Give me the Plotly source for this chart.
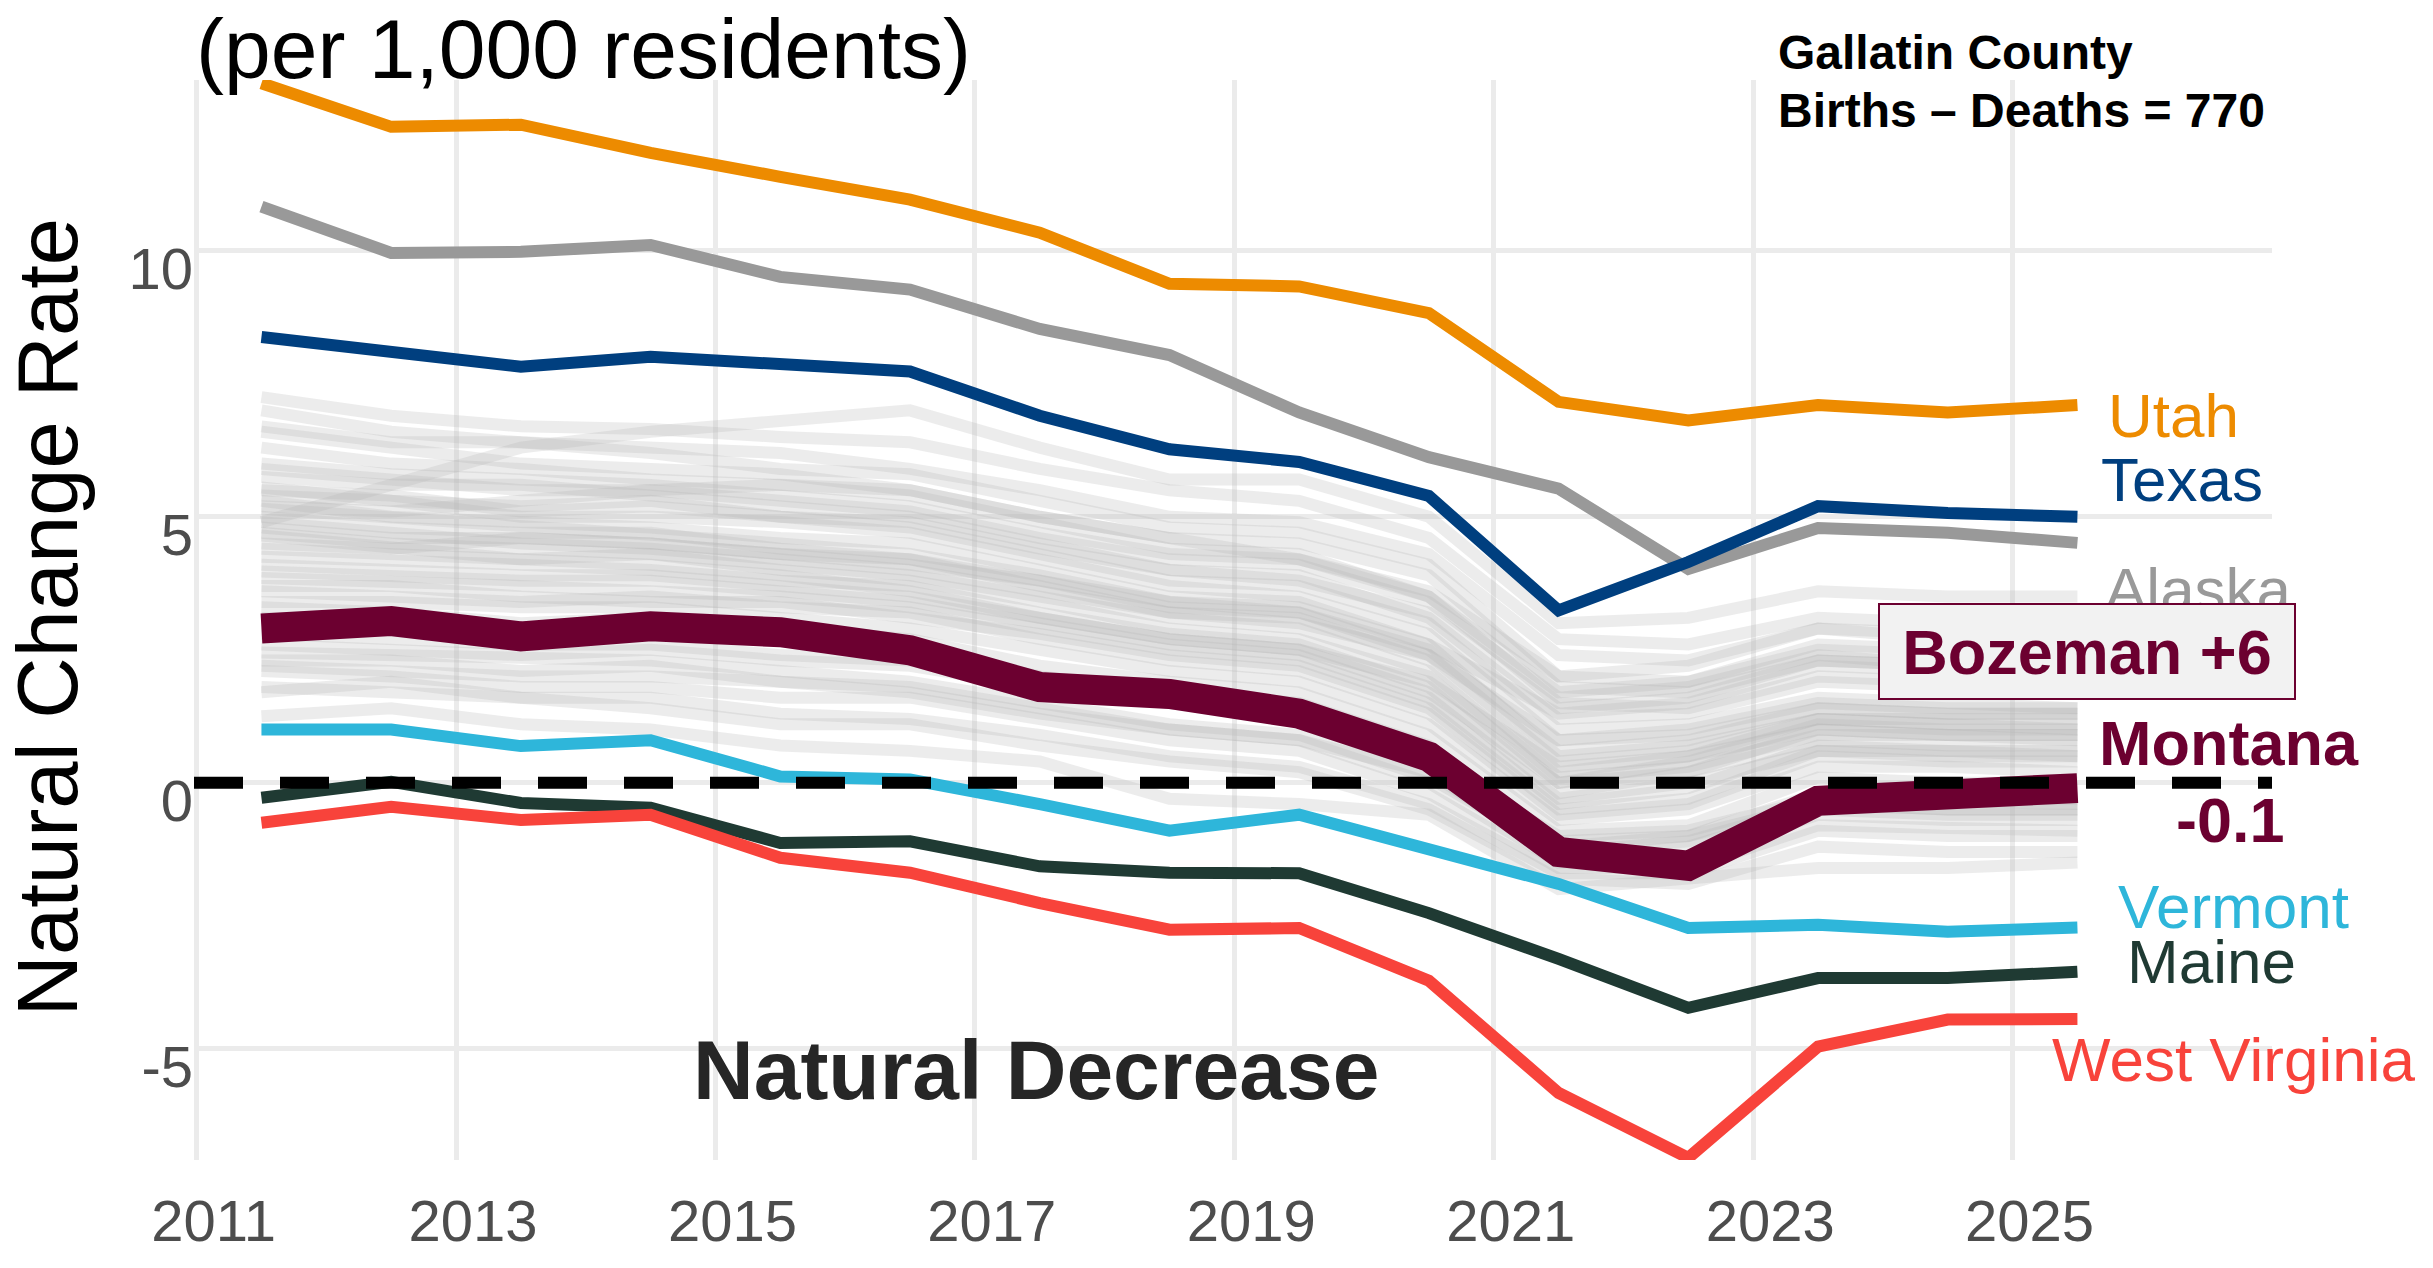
import plotly.graph_objects as go

# ---------------- data ----------------
years = [2011.5, 2012.5, 2013.5, 2014.5, 2015.5, 2016.5, 2017.5, 2018.5,
         2019.5, 2020.5, 2021.5, 2022.5, 2023.5, 2024.5, 2025.5]

utah = [13.15, 12.33, 12.37, 11.84, 11.39, 10.96, 10.34, 9.38, 9.33, 8.83, 7.16, 6.81, 7.10, 6.96, 7.10]
alaska = [10.83, 9.96, 9.98, 10.11, 9.51, 9.27, 8.53, 8.04, 6.96, 6.12, 5.53, 4.02, 4.79, 4.70, 4.51]
texas = [8.38, 8.08, 7.82, 8.01, 7.89, 7.73, 6.90, 6.27, 6.03, 5.39, 3.24, 4.15, 5.20, 5.07, 5.00]
montana = [2.90, 3.04, 2.75, 2.94, 2.83, 2.49, 1.80, 1.67, 1.30, 0.49, -1.30, -1.56, -0.34, -0.23, -0.10]
vermont = [1.00, 1.00, 0.69, 0.80, 0.12, 0.06, -0.40, -0.90, -0.60, -1.26, -1.90, -2.73, -2.67, -2.80, -2.72]
maine = [-0.28, 0.02, -0.38, -0.47, -1.13, -1.10, -1.57, -1.69, -1.70, -2.45, -3.31, -4.23, -3.67, -3.67, -3.55]
west_virginia = [-0.75, -0.45, -0.70, -0.60, -1.41, -1.69, -2.26, -2.76, -2.73, -3.72, -5.83, -7.05, -4.96, -4.45, -4.44]

other_states = [
    [4.9, 5.6, 6.3, 6.6, 6.8, 7.0, 6.3, 5.7, 5.7, 5.0, 3.0, 3.1, 3.6, 3.5, 3.5],
    [7.25, 6.9, 6.7, 6.65, 6.5, 6.4, 5.9, 5.5, 5.3, 4.6, 2.7, 2.6, 3.1, 3.0, 3.0],
    [7.0, 6.6, 6.4, 6.3, 6.2, 5.9, 5.5, 5.0, 4.9, 4.3, 2.4, 2.3, 2.9, 2.8, 2.8],
    [6.7, 6.4, 6.4, 6.2, 5.9, 5.8, 5.3, 4.8, 4.7, 4.1, 2.0, 1.9, 2.6, 2.5, 2.5],
    [6.6, 6.3, 6.0, 5.9, 5.8, 5.5, 5.0, 4.6, 4.5, 3.9, 1.8, 1.7, 2.3, 2.2, 2.2],
    [6.3, 6.0, 5.9, 5.7, 5.6, 5.4, 4.9, 4.4, 4.3, 3.5, 1.5, 1.4, 2.0, 1.9, 1.9],
    [6.0, 5.8, 5.7, 5.6, 5.4, 5.2, 4.7, 4.3, 4.2, 3.5, 1.7, 1.9, 2.5, 2.4, 2.4],
    [5.9, 5.7, 5.5, 5.5, 5.3, 5.1, 4.6, 4.2, 4.1, 3.4, 1.6, 1.8, 2.4, 2.2, 2.3],
    [5.75, 5.6, 5.6, 5.4, 5.2, 5.0, 4.5, 4.0, 3.9, 3.1, 1.2, 1.3, 1.9, 1.8, 1.7],
    [5.55, 5.3, 5.2, 5.3, 5.0, 4.8, 4.3, 3.8, 3.7, 3.0, 1.0, 1.1, 1.6, 1.5, 1.4],
    [5.5, 5.4, 5.1, 5.2, 5.0, 4.9, 4.4, 4.0, 3.8, 3.2, 1.4, 1.6, 2.3, 2.2, 2.2],
    [5.4, 5.3, 5.0, 5.0, 4.9, 4.7, 4.2, 3.7, 3.5, 2.8, 0.8, 0.9, 1.4, 1.3, 1.3],
    [5.3, 5.0, 4.9, 4.8, 4.6, 4.5, 4.0, 3.5, 3.4, 2.6, 0.5, 0.7, 1.2, 1.1, 1.0],
    [5.2, 5.1, 5.3, 5.5, 5.6, 5.5, 5.0, 4.6, 4.2, 3.6, 2.0, 2.2, 2.9, 2.7, 2.8],
    [5.15, 5.0, 4.8, 4.7, 4.5, 4.3, 3.9, 3.4, 3.2, 2.4, 0.4, 0.6, 1.2, 1.1, 1.1],
    [5.0, 4.8, 4.7, 4.7, 4.4, 4.2, 3.7, 3.2, 3.1, 2.3, 0.2, 0.5, 1.0, 0.9, 0.9],
    [4.9, 4.7, 4.5, 4.4, 4.2, 4.0, 3.6, 3.2, 3.0, 2.4, 0.8, 1.0, 1.5, 1.4, 1.4],
    [4.8, 4.6, 4.6, 4.5, 4.3, 4.2, 3.8, 3.3, 3.2, 2.5, 0.6, 0.8, 1.4, 1.3, 1.3],
    [4.7, 4.5, 4.4, 4.3, 4.1, 3.9, 3.5, 3.1, 2.9, 2.1, 0.1, 0.3, 0.9, 0.9, 0.8],
    [4.65, 4.4, 4.2, 4.3, 4.0, 3.8, 3.4, 2.9, 2.7, 2.0, 0.0, 0.4, 1.1, 1.0, 1.0],
    [4.5, 4.4, 4.6, 4.5, 4.3, 4.1, 3.8, 3.4, 3.3, 2.6, 1.3, 1.5, 2.2, 2.1, 2.1],
    [4.4, 4.3, 4.2, 4.1, 3.9, 3.6, 3.1, 2.7, 2.5, 1.9, 0.3, 0.5, 1.2, 1.2, 1.2],
    [4.25, 4.2, 4.1, 4.0, 3.8, 3.7, 3.2, 2.8, 2.6, 1.8, -0.2, 0.2, 0.8, 0.7, 0.7],
    [4.1, 4.0, 3.9, 3.9, 3.7, 3.5, 3.1, 2.7, 2.5, 1.7, 0.0, 0.2, 1.0, 0.9, 0.9],
    [3.97, 3.9, 3.8, 3.8, 3.6, 3.4, 3.0, 2.6, 2.4, 1.6, -0.3, 0.0, 0.6, 0.6, 0.5],
    [3.85, 3.8, 3.7, 3.6, 3.5, 3.3, 2.9, 2.5, 2.3, 1.5, -0.4, -0.1, 0.7, 0.6, 0.6],
    [3.7, 3.7, 3.5, 3.4, 3.4, 3.1, 2.8, 2.4, 2.2, 1.4, -0.5, -0.3, 0.6, 0.5, 0.5],
    [3.6, 3.5, 3.4, 3.5, 3.3, 3.2, 2.7, 2.3, 2.1, 1.3, -0.6, -0.4, 0.5, 0.4, 0.4],
    [3.4, 3.4, 3.3, 3.3, 3.1, 2.9, 2.5, 2.1, 1.9, 1.1, -0.7, -0.5, 0.3, 0.3, 0.2],
    [3.3, 3.2, 3.0, 3.1, 2.9, 2.7, 2.2, 1.9, 1.7, 0.9, -0.9, -0.8, 0.1, 0.0, 0.0],
    [3.1, 3.0, 2.9, 2.8, 2.7, 2.5, 2.0, 1.7, 1.5, 0.7, -1.1, -1.0, -0.2, -0.3, -0.3],
    [2.8, 2.7, 2.6, 2.6, 2.4, 2.3, 1.9, 1.5, 1.3, 0.5, -1.2, -1.0, -0.4, -0.5, -0.5],
    [2.6, 2.5, 2.4, 2.5, 2.3, 2.2, 1.8, 1.5, 1.3, 0.4, -1.0, -0.9, -0.3, -0.35, -0.4],
    [2.45, 2.4, 2.3, 2.3, 2.1, 1.9, 1.5, 1.1, 0.9, 0.1, -1.3, -1.1, -0.4, -0.5, -0.5],
    [2.3, 2.3, 2.1, 2.2, 1.9, 1.8, 1.4, 1.0, 0.8, 0.0, -1.5, -1.4, -0.6, -0.7, -0.7],
    [2.2, 2.1, 2.0, 2.0, 1.9, 1.7, 1.3, 1.0, 0.8, 0.2, -1.4, -1.2, -0.5, -0.6, -0.6],
    [2.1, 2.0, 1.8, 1.8, 1.6, 1.6, 1.2, 0.8, 0.6, -0.2, -1.6, -1.6, -0.8, -0.85, -0.9],
    [1.8, 1.7, 1.6, 1.6, 1.3, 1.2, 0.9, 0.5, 0.3, -0.4, -1.7, -1.7, -0.9, -1.0, -1.0],
    [1.7, 1.9, 1.6, 1.4, 1.1, 1.1, 0.7, 0.4, 0.2, -0.5, -1.8, -1.9, -1.2, -1.3, -1.3],
    [1.25, 1.4, 1.1, 1.0, 0.7, 0.6, 0.4, -0.3, -0.4, -0.6, -2.0, -1.8, -1.6, -1.6, -1.5],
]

x_tick_vals = [2011, 2013, 2015, 2017, 2019, 2021, 2023, 2025]
x_tick_text = ["2011", "2013", "2015", "2017", "2019", "2021", "2023", "2025"]
y_tick_vals = [-5, 0, 5, 10]
y_tick_text = ["-5", "0", "5", "10"]

FONT = "Liberation Sans, Arial, sans-serif"
MAROON = "#6C0030"

fig = go.Figure()

for vals in other_states:
    fig.add_trace(go.Scatter(x=years, y=vals, mode="lines",
                             line=dict(color="rgba(180,180,180,0.26)", width=12),
                             hoverinfo="skip", showlegend=False))

highlights = [
    ("Alaska", alaska, "#999999", 12),
    ("Texas", texas, "#003F7F", 12),
    ("Utah", utah, "#ED8B00", 12),
    ("Vermont", vermont, "#2EB6DA", 12),
    ("Maine", maine, "#1F3A33", 12),
    ("West Virginia", west_virginia, "#F8433B", 12),
    ("Montana", montana, MAROON, 30),
]
for name, vals, color, w in highlights:
    fig.add_trace(go.Scatter(x=years, y=vals, mode="lines", name=name,
                             line=dict(color=color, width=w),
                             showlegend=False))

# zero reference line
fig.add_shape(type="line", xref="paper", yref="y", x0=0, x1=1, y0=0, y1=0,
              line=dict(color="black", width=12, dash="49px,37px"), layer="above")

ann = []
def lab(text, x, y, color, size=62, xanchor="left", bold=False):
    t = f"<b>{text}</b>" if bold else text
    ann.append(dict(text=t, x=x, y=y, xref="x", yref="y", xanchor=xanchor,
                    yanchor="middle", showarrow=False,
                    font=dict(family=FONT, size=size, color=color)))

lab("Utah", 2025.72, 6.90, "#ED8B00")
lab("Texas", 2025.67, 5.70, "#003F7F")
lab("Alaska", 2025.70, 3.63, "#999999")
lab("Montana", 2025.65, 0.75, MAROON, size=63, bold=True)
lab("-0.1", 2026.68, -0.70, MAROON, size=63, xanchor="center", bold=True)
lab("Vermont", 2025.80, -2.33, "#2EB6DA")
lab("Maine", 2025.87, -3.36, "#1F3A33")
lab("West Virginia", 2025.29, -5.21, "#F8433B")

# Bozeman box (drawn after Alaska so it covers it)
ann.append(dict(text="<b>Bozeman +6</b>", x=0.911, y=0.4708, xref="paper", yref="paper",
                xanchor="center", yanchor="middle", showarrow=False,
                width=414, height=93, bgcolor="#F2F2F2", bordercolor=MAROON,
                borderwidth=2, borderpad=0,
                font=dict(family=FONT, size=63, color=MAROON)))

ann.append(dict(text="(per 1,000 residents)", x=0.0, y=1.0287, xref="paper", yref="paper",
                xanchor="left", yanchor="middle", showarrow=False,
                font=dict(family=FONT, size=84, color="black")))
ann.append(dict(text="<b>Gallatin County</b>", x=0.7613, y=1.0259, xref="paper", yref="paper",
                xanchor="left", yanchor="middle", showarrow=False,
                font=dict(family=FONT, size=48, color="black")))
ann.append(dict(text="<b>Births – Deaths = 770</b>", x=0.7613, y=0.9722, xref="paper", yref="paper",
                xanchor="left", yanchor="middle", showarrow=False,
                font=dict(family=FONT, size=48, color="black")))
ann.append(dict(text="Natural Change Rate", x=-0.0705, y=0.5028, xref="paper", yref="paper",
                xanchor="center", yanchor="middle", showarrow=False, textangle=-90,
                font=dict(family=FONT, size=85, color="black")))
ann.append(dict(text="<b>Natural Decrease</b>", x=0.4052, y=0.0833, xref="paper", yref="paper",
                xanchor="center", yanchor="middle", showarrow=False,
                font=dict(family=FONT, size=84, color="#262626")))

fig.update_layout(
    width=2433, height=1268,
    margin=dict(l=194, r=161, t=80, b=108, pad=0),
    plot_bgcolor="white", paper_bgcolor="white",
    font=dict(family=FONT),
    annotations=ann,
    showlegend=False,
    xaxis=dict(range=[2010.98, 2027.0], tickmode="array", tickvals=x_tick_vals,
               ticktext=x_tick_text, showgrid=True, gridcolor="#EBEBEB", gridwidth=5,
               zeroline=False, showline=False, ticks="", automargin=False,
               tickfont=dict(family=FONT, size=58, color="#4D4D4D"),
               ticklabelshift=17, ticklabelstandoff=22),
    yaxis=dict(range=[-7.09, 13.21], tickmode="array", tickvals=y_tick_vals,
               ticktext=y_tick_text, showgrid=True, gridcolor="#EBEBEB", gridwidth=5,
               zeroline=False, showline=False, ticks="", automargin=False,
               tickfont=dict(family=FONT, size=58, color="#4D4D4D"),
               ticklabelshift=18, ticklabelstandoff=0),
)

fig.write_html("out.html", config={"displayModeBar": False},
               post_script="document.body.style.margin='0';document.body.style.overflow='hidden';")
